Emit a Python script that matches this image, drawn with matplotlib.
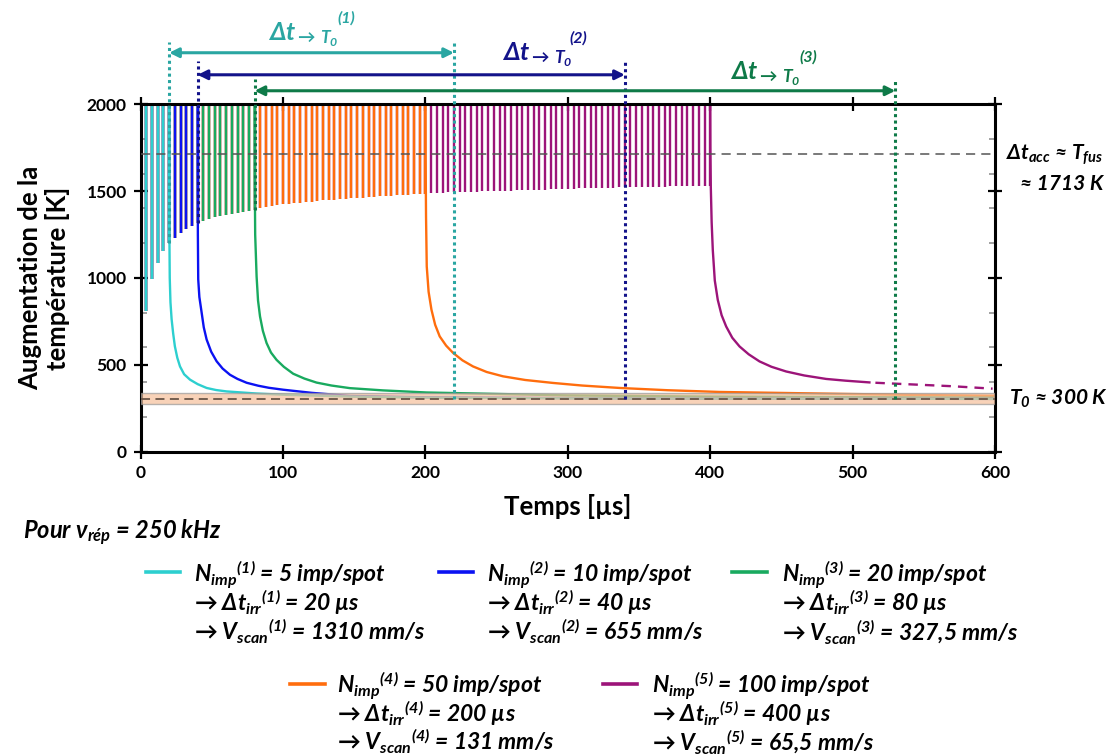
import numpy as np
import matplotlib
matplotlib.use('Agg')
import matplotlib.pyplot as plt
from matplotlib.lines import Line2D
from matplotlib.ticker import MultipleLocator

plt.rcParams['font.family'] = ['Lato', 'DejaVu Sans']
plt.rcParams['mathtext.fontset'] = 'custom'
plt.rcParams['mathtext.it'] = 'Lato:italic:bold'
plt.rcParams['mathtext.rm'] = 'Lato:italic:bold'
plt.rcParams['mathtext.bf'] = 'Lato:bold'

# ---- data ----
t_period = 4.0                      # µs between pulses (250 kHz)
n_imp = [5, 10, 20, 50, 100]
dt_irr = [20, 40, 80, 200, 400]     # µs, end of irradiation
v_scan = ['1310', '655', '327,5', '131', '65,5']
colors = ['#2dcfcf', '#0b12f2', '#19aa5f', '#ff6d0d', '#9c1479']

# temperature just before each pulse (K), pulse k at t = 4k µs
pulse_min = [811, 992, 1088, 1155, 1200,
             1231, 1258, 1280, 1300, 1316,
             1328, 1339, 1349, 1357, 1364, 1370, 1376, 1381, 1386, 1390,
             1405, 1410, 1415, 1419, 1423, 1427, 1431, 1434, 1437, 1440,
             1443, 1446, 1449, 1451, 1454, 1456, 1458, 1461, 1463, 1465,
             1467, 1469, 1471, 1473, 1475, 1477, 1479, 1481, 1483, 1485,
             1489, 1490, 1491, 1492, 1493, 1494, 1495, 1496, 1497, 1498,
             1499, 1500, 1501, 1502, 1503, 1504, 1505, 1506, 1507, 1508,
             1509, 1510, 1511, 1512, 1513, 1514, 1515, 1516, 1517, 1517,
             1518, 1519, 1520, 1521, 1521, 1522, 1523, 1524, 1524, 1525,
             1526, 1526, 1527, 1528, 1528, 1529, 1529, 1530, 1530, 1531]

# cooling after the last pulse
cool_t1 = [20, 20.05, 20.15, 20.4, 20.9, 21.7, 22.8, 24, 25.7, 27.6, 30.5, 34.6, 40,
           46.3, 53, 60.4, 81.4, 100, 150, 200, 300, 600]
cool_T1 = [2000, 1600, 1250, 1000, 860, 763, 680, 606, 540, 490, 445, 414, 388,
           366, 354, 346, 334, 327, 316, 310, 306, 303]
cool_t2 = [40, 40.05, 40.15, 40.4, 41.2, 42.8, 44.3, 46.3, 49.5, 53.3, 57.5, 62.7, 68,
           74.4, 82.5, 90, 100, 120, 147, 201, 340, 600]
cool_T2 = [2000, 1600, 1250, 992, 890, 800, 715, 645, 575, 520, 478, 442, 418,
           396, 379, 367, 356, 338, 320, 312, 306, 303]
cool_t3 = [80, 80.1, 80.4, 81.4, 82.4, 83.8, 85.8, 88.4, 91.5, 95.4, 100.5, 107.1, 115,
           123.5, 134, 146.9, 170.2, 200.7, 300, 400, 600]
cool_T3 = [2000, 1600, 1250, 1008, 870, 778, 695, 625, 570, 528, 488, 448, 420,
           397, 380, 365, 352, 340, 323, 316, 310]
cool_t4 = [200, 200.1, 200.4, 200.9, 202.2, 204.2, 206.8, 210, 214.5, 219.4, 226, 233.4,
           243, 254.5, 270, 289.5, 310, 336.4, 370, 406.5, 500, 600]
cool_T4 = [2000, 1700, 1352, 1066, 920, 817, 730, 663, 610, 568, 525, 490,
           458, 433, 412, 395, 380, 366, 353, 343, 331, 320]
cool_t5 = [400, 400.1, 400.4, 401, 401.8, 403.2, 405.3, 408, 411.2, 415.5, 420.6, 427,
           434.6, 443, 453.3, 466, 481.4, 495, 511.8]
cool_T5 = [2000, 1750, 1524, 1320, 1160, 985, 873, 785, 720, 655, 605, 560,
           519, 488, 461, 438, 418, 408, 398]
cool_t5_dash = [516, 540, 570, 598.3]
cool_T5_dash = [396, 387, 376, 362]

t_return = [220, 340, 530]          # µs, back to T0
arrow_colors = ['#2aa6a2', '#13138a', '#0e7a48']

T0 = 305
T0_band = (275, 336)
T_fus = 1713

# ---- figure ----
W, H = 1114, 756
def fx(px):
    return px / W
def fy(py):
    return 1 - py / H

fig = plt.figure(figsize=(W / 100, H / 100), dpi=100)
ax = fig.add_axes([fx(140.7), fy(451.5), (995 - 140.7) / W, (451.5 - 104.3) / H])

cool_t = [cool_t1, cool_t2, cool_t3, cool_t4, cool_t5]
cool_T = [cool_T1, cool_T2, cool_T3, cool_T4, cool_T5]

for i in reversed(range(5)):
    n = n_imp[i]
    tp = t_period * np.arange(1, n + 1)
    ax.vlines(tp, pulse_min[:n], 2000, color=colors[i], lw=1.7, zorder=2)
    ax.plot(cool_t[i], cool_T[i], color=colors[i], lw=1.7, zorder=2)
ax.plot(cool_t5_dash, cool_T5_dash, color=colors[4], lw=1.7, ls=(0, (4, 3)), zorder=2)

# T0 band and reference lines
ax.axhspan(T0_band[0], T0_band[1], facecolor='#f6c09a', edgecolor='#999999',
           lw=1, alpha=0.7, zorder=3)
ax.axhline(T0, color='#6a5548', lw=1.3, ls=(0, (5, 3)), zorder=4)
ax.axhline(T_fus, color='#555555', lw=1.1, ls=(0, (6, 4)), zorder=4)

# Δt -> T0 arrows
arrow_y = [2297, 2170, 2078]
dot_top = [2360, 2250, 2145]
for j in range(3):
    c = arrow_colors[j]
    t_start = dt_irr[j]
    ax.plot([t_start, t_start], [pulse_min[n_imp[j] - 1], dot_top[j]], color=c,
            lw=2.2, ls=(0, (1, 1.1)), clip_on=False, zorder=5)
    ax.plot([t_return[j], t_return[j]], [T0, dot_top[j]], color=c,
            lw=2.2, ls=(0, (1, 1.1)), clip_on=False, zorder=5)
    ax.annotate('', xy=(t_return[j], arrow_y[j]), xytext=(t_start, arrow_y[j]),
                arrowprops=dict(arrowstyle='<|-|>', color=c, lw=2.2,
                                mutation_scale=14, shrinkA=0, shrinkB=0),
                annotation_clip=False, zorder=5)

lab_x = [268, 502, 730]
lab_y = [40, 60, 79]
sup_x = [337, 569, 799]
sup_y = [23, 43, 62]
for j in range(3):
    fig.text(fx(lab_x[j]), fy(lab_y[j]), r'Δ$t_{\rightarrow\,T_0}$', color=arrow_colors[j],
             fontsize=18, fontweight='bold', fontstyle='italic', va='baseline')
    fig.text(fx(sup_x[j]), fy(sup_y[j]), '(%d)' % (j + 1), color=arrow_colors[j],
             fontsize=11.5, fontweight='bold', fontstyle='italic', va='baseline')

# axes styling
ax.set_xlim(0, 600)
ax.set_ylim(0, 2000)
ax.xaxis.set_major_locator(MultipleLocator(100))
ax.yaxis.set_major_locator(MultipleLocator(500))
ax.yaxis.set_minor_locator(MultipleLocator(200))
for s in ax.spines.values():
    s.set_linewidth(2.2)
ax.tick_params(which='major', direction='inout', length=10, width=1.6,
               top=True, right=True, labelsize=12.5, pad=5)
ax.tick_params(axis='y', which='minor', direction='in', length=4.5, width=1.1,
               color='#888888', left=True, right=True)
for lab in ax.get_xticklabels() + ax.get_yticklabels():
    lab.set_fontweight('bold')

ax.set_xlabel('Temps [µs]', fontsize=18.5, fontweight='bold', labelpad=9)
ax.set_ylabel('Augmentation de la\ntempérature [K]', fontsize=18.5, fontweight='bold',
              labelpad=12, linespacing=1.15)

# right side notes
fig.text(fx(1103), fy(160), r'Δ$t_{acc}$ ≈ $T_{fus}$', fontsize=15, fontweight='bold',
         fontstyle='italic', ha='right', va='baseline')
fig.text(fx(1103), fy(190), '≈ 1713 K', fontsize=15, fontweight='bold',
         fontstyle='italic', ha='right', va='baseline')
fig.text(fx(1009), fy(405), r'$T_0$ ≈ 300 K', fontsize=15, fontweight='bold',
         fontstyle='italic', ha='left', va='baseline')

fig.text(fx(23), fy(539), r'Pour ν$_{rép}$ = 250 kHz', fontsize=17, fontweight='bold',
         fontstyle='italic', ha='left', va='baseline')

# legend blocks
hand_x = [(146, 180), (439, 473), (732, 767), (290, 325), (603, 637)]
hand_y = [572, 572, 572, 684, 684]
text_x = [194, 487, 782, 337, 652]
base_y = [(582, 611, 640)] * 3 + [(693, 722, 750)] * 2
for i in range(5):
    x0, x1 = hand_x[i]
    fig.add_artist(Line2D([fx(x0), fx(x1)], [fy(hand_y[i])] * 2, transform=fig.transFigure,
                          color=colors[i], lw=2.6))
    k = i + 1
    lines = [r'$N_{imp}{}^{(%d)}$ = %d imp/spot' % (k, n_imp[i]),
             r'→ Δ$t_{irr}{}^{(%d)}$ = %d µs' % (k, dt_irr[i]),
             r'→ $V_{scan}{}^{(%d)}$ = %s mm/s' % (k, v_scan[i])]
    for line, yb in zip(lines, base_y[i]):
        fig.text(fx(text_x[i]), fy(yb), line, fontsize=16.5, fontweight='bold',
                 fontstyle='italic', ha='left', va='baseline')

fig.savefig('out.png', dpi=100)
